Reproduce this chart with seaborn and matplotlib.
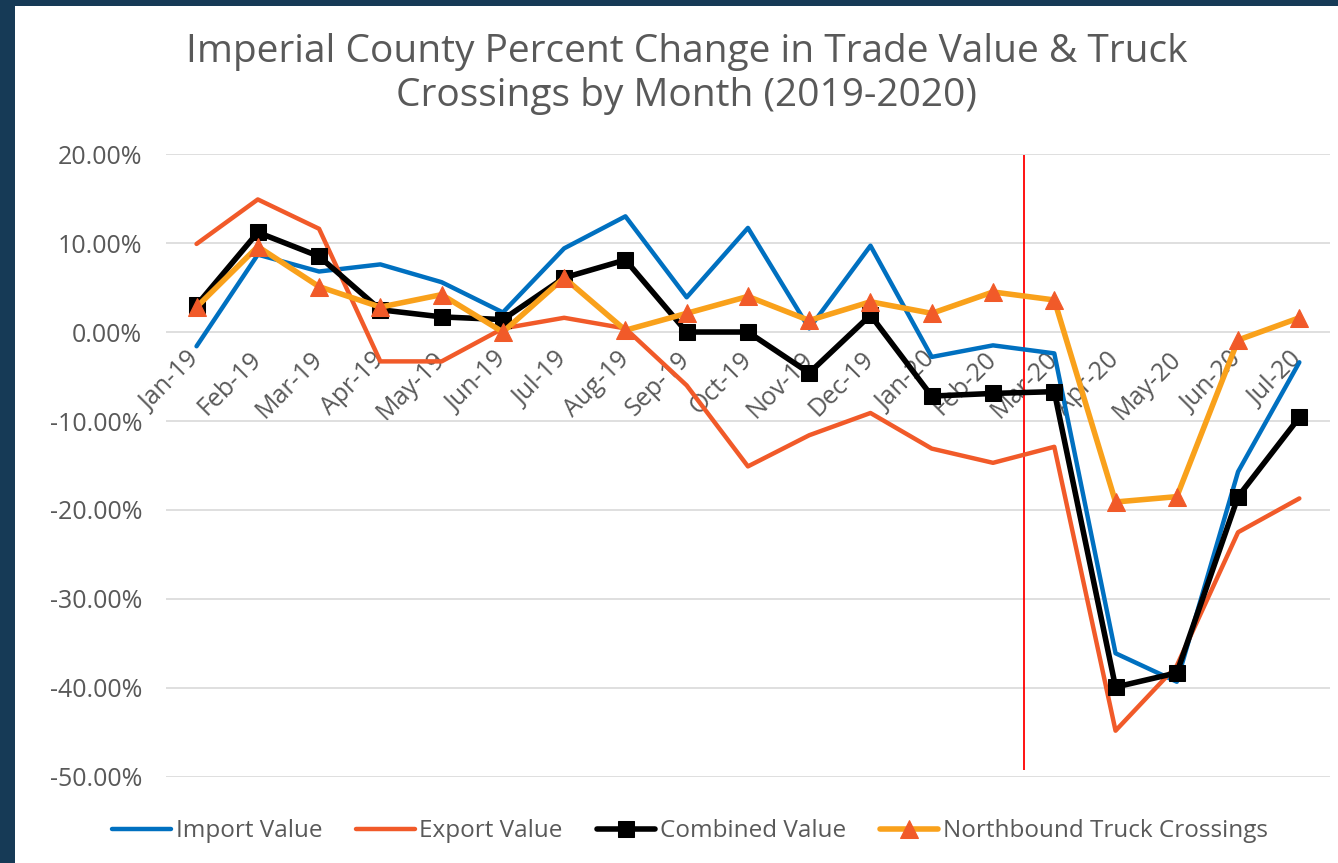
import matplotlib
matplotlib.use('Agg')
import matplotlib.pyplot as plt
import seaborn as sns
from matplotlib.patches import Rectangle

months = ['Jan-19', 'Feb-19', 'Mar-19', 'Apr-19', 'May-19', 'Jun-19', 'Jul-19',
          'Aug-19', 'Sep-19', 'Oct-19', 'Nov-19', 'Dec-19', 'Jan-20', 'Feb-20',
          'Mar-20', 'Apr-20', 'May-20', 'Jun-20', 'Jul-20']

# percent change
import_value = [-1.6, 8.7, 6.8, 7.6, 5.6, 2.2, 9.4, 13.0, 3.9, 11.7, 0.4, 9.7,
                -2.8, -1.5, -2.4, -36.1, -39.3, -15.7, -3.4]
export_value = [9.9, 14.9, 11.6, -3.3, -3.3, 0.4, 1.6, 0.4, -6.0, -15.1, -11.6, -9.1,
                -13.1, -14.7, -12.9, -44.8, -37.5, -22.5, -18.7]
combined_value = [3.0, 11.2, 8.5, 2.5, 1.7, 1.4, 6.1, 8.1, 0.0, 0.0, -4.6, 1.9,
                  -7.2, -6.9, -6.7, -39.9, -38.3, -18.5, -9.6]
truck_crossings = [2.8, 9.6, 5.1, 2.8, 4.2, 0.0, 6.1, 0.2, 2.1, 4.0, 1.3, 3.4,
                   2.1, 4.5, 3.6, -19.1, -18.5, -0.9, 1.6]

BLUE = '#0070C0'
RED = '#F15A29'
ORANGE = '#F9A11B'
GREY = '#595959'

sns.set_theme(style='white')
plt.rcParams['font.family'] = ['Open Sans', 'DejaVu Sans']

fig = plt.figure(figsize=(13.38, 8.63), dpi=100)
fig.patch.set_facecolor('#163A56')
fig.add_artist(Rectangle((15 / 1338, 0), 1, 1 - 6 / 863, transform=fig.transFigure,
                         facecolor='white', edgecolor='none', zorder=-1))

ax = fig.add_axes([0.124, 0.0997, 0.870, 0.7218])
ax.set_facecolor('none')

x = list(range(len(months)))
sns.lineplot(x=x, y=import_value, ax=ax, color=BLUE, lw=3.2, label='Import Value',
             solid_joinstyle='round')
sns.lineplot(x=x, y=export_value, ax=ax, color=RED, lw=3.2, label='Export Value',
             solid_joinstyle='round')
sns.lineplot(x=x, y=combined_value, ax=ax, color='black', lw=4, marker='s',
             markersize=11, markerfacecolor='black', markeredgecolor='black',
             label='Combined Value', solid_joinstyle='round')
sns.lineplot(x=x, y=truck_crossings, ax=ax, color=ORANGE, lw=4, marker='^',
             markersize=13, markerfacecolor=RED, markeredgecolor=RED,
             label='Northbound Truck Crossings', solid_joinstyle='round')

# marker for the shutdown
ax.vlines(13.5, -49.2, 19.9, color='red', lw=1.3, zorder=1)

for s in ax.spines.values():
    s.set_visible(False)
ax.spines['bottom'].set_position(('data', 0))

ax.set_xlim(-0.5, len(months) - 0.5)
ax.set_ylim(-50, 20)
ax.set_yticks(range(-50, 21, 10))
ax.set_yticklabels([f'{v:.2f}%' for v in range(-50, 21, 10)])
ax.set_xticks(x)
ax.set_xticklabels(months, rotation=45, ha='right', va='center', rotation_mode='anchor')

ax.tick_params(axis='x', length=0, pad=17, labelsize=18, labelcolor=GREY)
ax.tick_params(axis='y', length=0, pad=17, labelsize=18, labelcolor=GREY)
ax.yaxis.grid(True, color='#D9D9D9', lw=1.2)
ax.xaxis.grid(False)
ax.set_axisbelow(True)
ax.set_xlabel('')
ax.set_ylabel('')

handles, labels = ax.get_legend_handles_labels()
ax.get_legend().remove()
fig.legend(handles, labels, loc='center', bbox_to_anchor=(0.516, 0.037), ncol=4,
           frameon=False, fontsize=17.5, handlelength=2.4, handletextpad=0.2,
           columnspacing=1.4, labelcolor=GREY)

fig.text(0.513, 0.914, 'Imperial County Percent Change in Trade Value & Truck\n'
         'Crossings by Month (2019-2020)', ha='center', va='center',
         fontsize=28, color=GREY, linespacing=1.2)

fig.savefig('out.png', dpi=100)
